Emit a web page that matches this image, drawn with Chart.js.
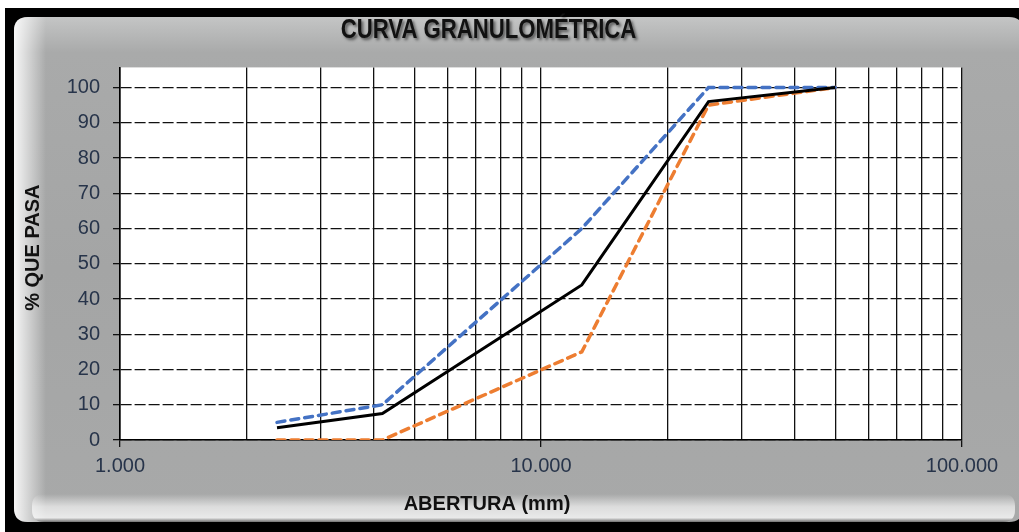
<!DOCTYPE html>
<html>
<head>
<meta charset="utf-8">
<script src="https://cdn.jsdelivr.net/npm/chart.js@4"></script>
<style>
  html, body { margin: 0; padding: 0; background: #fff; }
  #wrap { width: 1019px; height: 532px; }
</style>
</head>
<body>
<div id="wrap"><canvas id="c" width="1019" height="532"></canvas></div>
<script>
// ---- data ----
const chartTitle = 'CURVA GRANULOMÉTRICA';
const xAxisTitle = 'ABERTURA (mm)';
const yAxisTitle = '% QUE PASA';
const sieveOpenings = [2.36, 4.2, 12.5, 25, 50];       // mm
const percentPassing = [3.5, 7.5, 44, 96, 100];         // sample curve (black)
const upperLimit = [5, 10, 60, 100, 100];               // blue dashed
const lowerLimit = [0, 0, 25, 95, 100];                 // orange dashed
const xTickValues = [1, 10, 100];
const xTickLabels = ['1.000', '10.000', '100.000'];
const yTickValues = [0, 10, 20, 30, 40, 50, 60, 70, 80, 90, 100];

const toPoints = (ys) => sieveOpenings.map((x, i) => ({ x: x, y: ys[i] }));

// minor log gridlines (2..9 of each decade) + decades
const xGridValues = [];
for (let d = 1; d < 100; d *= 10) for (let m = 1; m < 10; m++) xGridValues.push(m * d);
xGridValues.push(100);

const FONT = "'Liberation Sans', Arial, sans-serif";

function roundRectPath(c, x, y, w, h, r) {
  c.beginPath();
  c.moveTo(x + r, y);
  c.lineTo(x + w - r, y);
  c.quadraticCurveTo(x + w, y, x + w, y + r);
  c.lineTo(x + w, y + h - r);
  c.quadraticCurveTo(x + w, y + h, x + w - r, y + h);
  c.lineTo(x + r, y + h);
  c.quadraticCurveTo(x, y + h, x, y + h - r);
  c.lineTo(x, y + r);
  c.quadraticCurveTo(x, y, x + r, y);
  c.closePath();
}

function wrapDraw(obj, key, before) {
  if (!obj || obj['_w_' + key]) return;
  const orig = obj[key].bind(obj);
  obj[key] = function (...args) {
    const ctx = obj.ctx || obj.chart.ctx;
    ctx.save();
    before(ctx);
    orig(...args);
    ctx.restore();
  };
  obj['_w_' + key] = true;
}

const frame = {
  id: 'frame',
  beforeDraw(chart) {
    const c = chart.ctx, W = chart.width, H = chart.height;
    c.save();
    c.fillStyle = '#ffffff';
    c.fillRect(0, 0, W, H);
    c.fillStyle = '#000000';
    c.fillRect(5, 8, W - 5, H - 8);
    const x0 = 14, y0 = 17, x1 = W + 4, y1 = 522;
    roundRectPath(c, x0, y0, x1 - x0, y1 - y0, 14);
    const g = c.createLinearGradient(0, y0, 0, y1);
    g.addColorStop(0, '#c4c5c5');
    g.addColorStop(0.07, '#a9aaaa');
    g.addColorStop(0.5, '#a4a5a5');
    g.addColorStop(1, '#a8a9a9');
    c.fillStyle = g;
    c.fill();
    c.clip();
    const gl = c.createLinearGradient(x0, 0, x0 + 32, 0);
    gl.addColorStop(0, 'rgba(255,255,255,0.9)');
    gl.addColorStop(1, 'rgba(255,255,255,0)');
    c.fillStyle = gl;
    c.fillRect(x0, y0, 40, y1 - y0);
    // bottom bevel highlight
    const gb = c.createLinearGradient(0, 494, 0, 522);
    gb.addColorStop(0, 'rgba(255,255,255,0)');
    gb.addColorStop(0.45, 'rgba(255,255,255,0.6)');
    gb.addColorStop(0.85, 'rgba(255,255,255,0.75)');
    gb.addColorStop(1, 'rgba(90,90,90,0.7)');
    c.fillStyle = gb;
    roundRectPath(c, x0 + 18, 494, W - x0 - 22, 28, 12);
    c.fill();
    c.restore();

    // white plot area
    const a = chart.chartArea;
    c.save();
    c.fillStyle = '#ffffff';
    c.fillRect(a.left, a.top, a.right - a.left, a.bottom - a.top);
    c.restore();

    // title: shadow + horizontal condensing (narrow bold look)
    const tb = chart.titleBlock;
    wrapDraw(tb, 'draw', (ctx) => {
      const cx = (tb.left + tb.right) / 2;
      ctx.translate(cx, 0);
      ctx.scale(0.82, 1);
      ctx.translate(-cx, 0);
      ctx.shadowColor = 'rgba(0,0,0,0.55)';
      ctx.shadowBlur = 3;
      ctx.shadowOffsetX = 2;
      ctx.shadowOffsetY = 2;
    });
    // axis titles centred like the original (over the whole chart, not the axis)
    wrapDraw(chart.scales.x, 'drawTitle', (ctx) => ctx.translate(-54, 0));
    wrapDraw(chart.scales.y, 'drawTitle', (ctx) => ctx.translate(0, -6));
  }
};

new Chart(document.getElementById('c'), {
  type: 'line',
  data: {
    datasets: [
      {
        label: 'Muestra',
        data: toPoints(percentPassing),
        borderColor: '#000000',
        borderWidth: 3,
        pointRadius: 0,
        tension: 0,
        fill: false
      },
      {
        label: 'Límite superior',
        data: toPoints(upperLimit),
        borderColor: '#4472c4',
        borderWidth: 3.5,
        borderDash: [8, 6],
        borderCapStyle: 'round',
        pointRadius: 0,
        tension: 0,
        fill: false
      },
      {
        label: 'Límite inferior',
        data: toPoints(lowerLimit),
        borderColor: '#ed7d31',
        borderWidth: 3.5,
        borderDash: [8, 6],
        borderCapStyle: 'round',
        pointRadius: 0,
        tension: 0,
        fill: false
      }
    ]
  },
  options: {
    responsive: false,
    animation: false,
    layout: { padding: { left: 15, right: 57, top: 0, bottom: 10 } },
    plugins: {
      legend: { display: false },
      tooltip: { enabled: false },
      title: {
        display: true,
        text: chartTitle,
        color: '#111111',
        font: { family: FONT, size: 27, weight: 'bold' },
        padding: { top: 14, bottom: 21 }
      }
    },
    scales: {
      x: {
        type: 'logarithmic',
        position: 'bottom',
        min: 1,
        max: 100,
        afterBuildTicks(scale) {
          scale.ticks = xGridValues.map(v => ({ value: v, major: xTickValues.includes(v) }));
        },
        afterFit(scale) { scale.height = 82; },
        ticks: {
          autoSkip: false,
          maxRotation: 0,
          minRotation: 0,
          padding: 7,
          color: '#27344a',
          font: { family: FONT, size: 20 },
          callback(value) {
            const i = xTickValues.indexOf(value);
            return i >= 0 ? xTickLabels[i] : '';
          }
        },
        grid: {
          color: '#111111',
          lineWidth: 1.3,
          tickLength: 7,
          tickColor: (ctx) => (ctx.tick && xTickValues.includes(ctx.tick.value)) ? '#111111' : 'rgba(0,0,0,0)',
          tickBorderDash: []
        },
        border: { display: true, color: '#000000', width: 1.6 },
        title: {
          display: true,
          text: xAxisTitle,
          color: '#111111',
          font: { family: FONT, size: 20, weight: 'bold' },
          padding: { top: 0, bottom: 6 }
        }
      },
      y: {
        type: 'linear',
        min: 0,
        max: 105.7,
        afterBuildTicks(scale) {
          scale.ticks = yTickValues.map(v => ({ value: v }));
        },
        afterFit(scale) { scale.width = 105; },
        ticks: {
          padding: 13,
          color: '#27344a',
          font: { family: FONT, size: 20 }
        },
        grid: {
          color: '#111111',
          lineWidth: 1.3,
          tickLength: 7,
          tickColor: '#111111',
          tickBorderDash: []
        },
        border: { display: true, color: '#000000', width: 1.6, dash: [11, 3] },
        title: {
          display: true,
          text: yAxisTitle,
          color: '#111111',
          font: { family: FONT, size: 20, weight: 'bold' },
          padding: { top: 6, bottom: 0 }
        }
      }
    }
  },
  plugins: [frame]
});
</script>
</body>
</html>
